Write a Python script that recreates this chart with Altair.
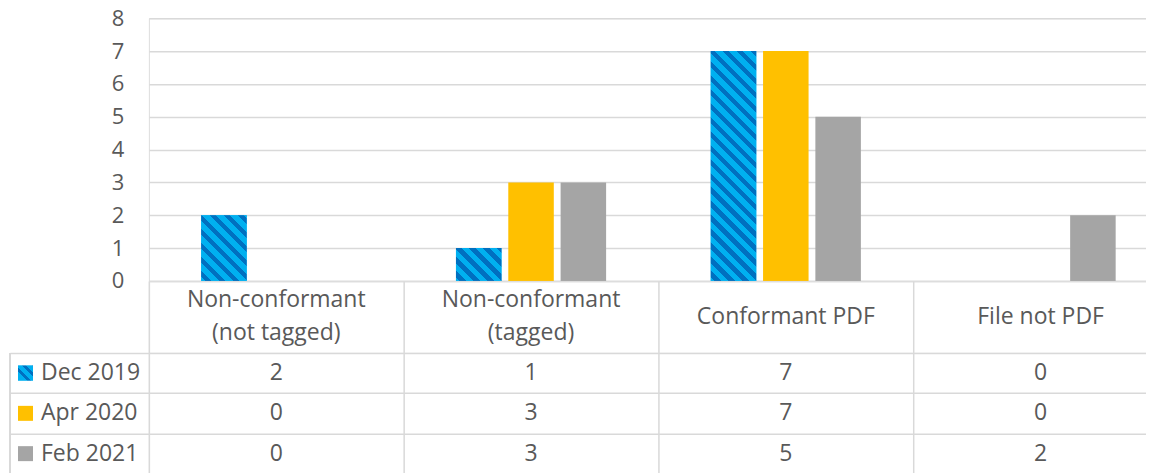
import altair as alt
import pandas as pd

# ---- data ----
CATEGORIES = ["Non-conformant (not tagged)", "Non-conformant (tagged)", "Conformant PDF", "File not PDF"]
HEADER_LABELS = ["Non-conformant|(not tagged)", "Non-conformant|(tagged)", "Conformant PDF", "File not PDF"]
SERIES = ["Dec 2019", "Apr 2020", "Feb 2021"]
DEC_2019 = [2, 1, 7, 0]
APR_2020 = [0, 3, 7, 0]
FEB_2021 = [0, 3, 5, 2]
Y_TICKS = [0, 1, 2, 3, 4, 5, 6, 7, 8]

# ---- style ----
BLUE, DARK_BLUE, ORANGE, GREY = "#00B0F0", "#0070C0", "#FFC000", "#A5A5A5"
TEXT = "#595959"
LINE = "#D9D9D9"
FONT = "Open Sans"
FS = 23
LINE_H = 33
PLOT_W, PLOT_H, TABLE_H, HEADER_H, LEFT_COL = 1020, 263, 121, 72, 139
PAD_IN, PAD_OUT = 0.13, 1.0

rows = []
for s, vals in zip(SERIES, [DEC_2019, APR_2020, FEB_2021]):
    for c, v in zip(CATEGORIES, vals):
        rows.append({"category": c, "series": s, "value": v})
df = pd.DataFrame(rows)

color_scale = alt.Scale(domain=SERIES, range=[BLUE, ORANGE, GREY])


def hatch(W, H, P=14.0, dark=0.45, phase=4.0):
    L = W + H
    c = L / (W * W + H * H)
    stops = [alt.GradientStop(offset=0, color=BLUE)]
    pos = phase
    while pos < L:
        a = pos / L
        b = min(pos + dark * P, L) / L
        stops += [alt.GradientStop(offset=round(a, 4), color=BLUE),
                  alt.GradientStop(offset=round(a, 4), color=DARK_BLUE),
                  alt.GradientStop(offset=round(b, 4), color=DARK_BLUE),
                  alt.GradientStop(offset=round(b, 4), color=BLUE)]
        pos += P
    stops.append(alt.GradientStop(offset=1, color=BLUE))
    return alt.LinearGradient(gradient="linear", stops=stops, x1=0, y1=1,
                              x2=round(c * W, 5), y2=round(1 - c * H, 5))


step_cat = PLOT_W / len(CATEGORIES)
step_off = step_cat / (len(SERIES) - PAD_IN + 2 * PAD_OUT)
BAR_W = step_off * (1 - PAD_IN)
unit = PLOT_H / Y_TICKS[-1]

cat_scale = alt.Scale(domain=CATEGORIES, paddingInner=0, paddingOuter=0)

x_top = alt.X("category:N", sort=CATEGORIES, scale=cat_scale,
              axis=alt.Axis(title=None, labels=False, ticks=False, grid=False,
                            domainColor=LINE, domainWidth=1.5))
y_top = alt.Y("value:Q", scale=alt.Scale(domain=[0, Y_TICKS[-1]], nice=False),
              axis=alt.Axis(title=None, values=Y_TICKS, labelFont=FONT, labelFontSize=22,
                            labelColor=TEXT, labelPadding=25, ticks=False, domain=False,
                            gridColor=LINE, gridWidth=1.5))
xoff = alt.XOffset("series:N", sort=SERIES,
                   scale=alt.Scale(domain=SERIES, paddingInner=PAD_IN, paddingOuter=PAD_OUT))

nonzero = df[df["value"] > 0]
base = alt.Chart(nonzero).mark_bar().encode(
    x=x_top, y=y_top, xOffset=xoff,
    color=alt.Color("series:N", scale=color_scale, legend=None))

layers = [base]
for c, v in zip(CATEGORIES, DEC_2019):
    if v > 0:
        sub = df[(df["series"] == "Dec 2019") & (df["category"] == c)]
        layers.append(alt.Chart(sub).mark_bar(fill=hatch(BAR_W, v * unit)).encode(
            x=x_top, y=y_top, xOffset=xoff))

top = alt.layer(*layers).properties(width=PLOT_W, height=PLOT_H)

# ---- header row of the data table ----
head_df = pd.DataFrame({"category": CATEGORIES, "label": HEADER_LABELS})
x_grid = alt.X("category:N", sort=CATEGORIES, scale=cat_scale,
               axis=alt.Axis(title=None, labels=False, ticks=False, domain=False, grid=True,
                             tickBand="extent", gridColor=LINE, gridWidth=1.5))
head_two = alt.Chart(head_df).transform_filter("indexof(datum.label, '|') >= 0").mark_text(
    font=FONT, fontSize=FS, color=TEXT, lineBreak="|", lineHeight=LINE_H, baseline="middle",
    dy=-LINE_H / 2).encode(x=x_grid, y=alt.value(HEADER_H / 2), text="label:N")
head_one = alt.Chart(head_df).transform_filter("indexof(datum.label, '|') < 0").mark_text(
    font=FONT, fontSize=FS, color=TEXT, baseline="middle").encode(
    x=x_grid, y=alt.value(HEADER_H / 2), text="label:N")
header = alt.layer(head_two, head_one).properties(width=PLOT_W, height=HEADER_H)

# ---- data rows ----
y_tab = alt.Y("series:N", sort=SERIES,
              scale=alt.Scale(domain=SERIES, paddingInner=0, paddingOuter=0),
              axis=alt.Axis(title=None, labels=False, domain=False, grid=True, ticks=True,
                            tickBand="extent", tickSize=LEFT_COL, tickColor=LINE, tickWidth=1.5,
                            gridColor=LINE, gridWidth=1.5))

cells = alt.Chart(df).mark_text(font=FONT, fontSize=FS, color=TEXT).encode(
    x=x_grid, y=y_tab, text=alt.Text("value:Q"))

legend_df = pd.DataFrame({"series": SERIES})
row_labels = alt.Chart(legend_df).mark_text(font=FONT, fontSize=FS, color=TEXT, align="left").encode(
    x=alt.value(-108), y=y_tab, text="series:N")
squares = alt.Chart(legend_df).mark_square(size=225, opacity=1, filled=True).encode(
    x=alt.value(-123.5), y=y_tab, color=alt.Color("series:N", scale=color_scale, legend=None))
square_hatch = alt.Chart(legend_df[legend_df["series"] == "Dec 2019"]).mark_square(
    size=225, opacity=1, filled=True, fill=hatch(15, 15, P=10, dark=0.45, phase=9)).encode(
    x=alt.value(-123.5), y=y_tab)
left_border = alt.Chart(legend_df).mark_rule(color=LINE, strokeWidth=1.5).encode(
    x=alt.value(-LEFT_COL), y=alt.value(0), y2=alt.value(TABLE_H))

table = alt.layer(cells, left_border, squares, square_hatch, row_labels).properties(
    width=PLOT_W, height=TABLE_H)

chart = alt.vconcat(top, header, table, spacing=0, bounds="flush").resolve_scale(
    x="independent", y="independent", color="independent"
).properties(padding={"left": 0, "top": -2, "right": -23, "bottom": 0}
).configure_view(stroke=None).configure(background="white")

chart.save("out.html", embed_options={"renderer": "svg", "actions": False})
